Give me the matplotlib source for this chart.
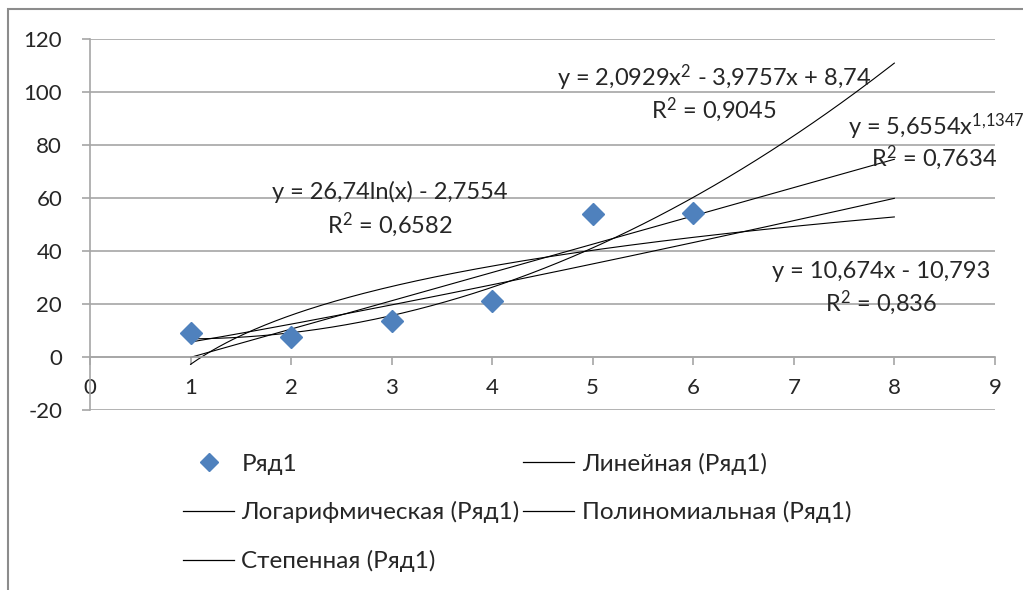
import numpy as np
import matplotlib.pyplot as plt
from matplotlib.lines import Line2D
from matplotlib.patches import Rectangle

plt.rcParams['font.family'] = ['Lato', 'DejaVu Sans']
plt.rcParams['mathtext.fontset'] = 'custom'
plt.rcParams['mathtext.rm'] = 'Lato'
plt.rcParams['mathtext.it'] = 'Lato'
plt.rcParams['axes.unicode_minus'] = False

# data
x_vals = [1, 2, 3, 4, 5, 6]
y_vals = [9.1, 7.5, 13.6, 21.2, 53.8, 54.5]

# trendline coefficients as printed on the chart
lin_coef = [10.674, -10.793]
log_coef = [26.74, -2.7554]
poly_coef = [2.0929, -3.9757, 8.74]
pow_coef = [5.6554, 1.1347]
trend_x = [1, 8]

yticks = [-20, 0, 20, 40, 60, 80, 100, 120]
xticks = [0, 1, 2, 3, 4, 5, 6, 7, 8, 9]

grid_c = '#a6a6a6'
txt_c = '#262626'

fig = plt.figure(figsize=(10.23, 5.90), dpi=100)
ax = fig.add_axes([0.088, 0.305, 0.8845, 0.629])

xx = np.linspace(trend_x[0], trend_x[1], 200)
ax.plot(xx, lin_coef[0] * xx + lin_coef[1], color='black', lw=0.8)
ax.plot(xx, log_coef[0] * np.log(xx) + log_coef[1], color='black', lw=0.8)
ax.plot(xx, np.polyval(poly_coef, xx), color='black', lw=0.8)
ax.plot(xx, pow_coef[0] * xx ** pow_coef[1], color='black', lw=0.8)
ax.plot(x_vals, y_vals, linestyle='none', marker='D', markersize=11,
        color='#4f81bd', markeredgecolor='#4f81bd', zorder=3)

ax.set_xlim(0, 9)
ax.set_ylim(-20, 120)
ax.set_yticks(yticks)
ax.set_xticks(xticks)
ax.yaxis.grid(True, color=grid_c, lw=1.2)
ax.set_axisbelow(True)
for s in ['top', 'right']:
    ax.spines[s].set_visible(False)
ax.spines['left'].set_color(grid_c)
ax.spines['left'].set_linewidth(1.2)
ax.spines['bottom'].set_position(('data', 0))
ax.spines['bottom'].set_color(grid_c)
ax.spines['bottom'].set_linewidth(1.2)
ax.tick_params(axis='y', direction='out', length=6, width=1.2, color=grid_c,
               labelsize=16, labelcolor=txt_c, pad=14)
ax.tick_params(axis='x', direction='out', length=6, width=1.2, color=grid_c,
               labelsize=16, labelcolor=txt_c, pad=9)

fs = 17
ax.text(6.21, 105.3, r'y = 2,0929x$^{2}$ - 3,9757x + 8,74', ha='center', va='center', fontsize=fs, color=txt_c)
ax.text(6.2, 93.2, r'R$^{2}$ = 0,9045', ha='center', va='center', fontsize=fs, color=txt_c)
ax.text(7.54, 86.7, r'y = 5,6554x$^{1{,}1347}$', ha='left', va='center', fontsize=fs, color=txt_c)
ax.text(8.40, 75.4, r'R$^{2}$ = 0,7634', ha='center', va='center', fontsize=fs, color=txt_c)
ax.text(2.98, 62.1, 'y = 26,74ln(x) - 2,7554', ha='center', va='center', fontsize=fs, color=txt_c)
ax.text(2.98, 50.0, r'R$^{2}$ = 0,6582', ha='center', va='center', fontsize=fs, color=txt_c)
ax.text(7.87, 32.2, 'y = 10,674x - 10,793', ha='center', va='center', fontsize=fs, color=txt_c)
ax.text(7.87, 20.5, r'R$^{2}$ = 0,836', ha='center', va='center', fontsize=fs, color=txt_c)

handles = [
    Line2D([], [], linestyle='none', marker='D', markersize=9, color='#4f81bd'),
    Line2D([], [], color='black', lw=0.9),
    Line2D([], [], color='black', lw=0.9),
    Line2D([], [], color='black', lw=0.9),
    Line2D([], [], color='black', lw=0.9),
]
labels = ['Ряд1', 'Логарифмическая (Ряд1)', 'Степенная (Ряд1)',
          'Линейная (Ряд1)', 'Полиномиальная (Ряд1)']
fig.legend(handles, labels, loc='upper left', bbox_to_anchor=(0.179, 0.233),
           ncol=2, frameon=False, fontsize=17.5, handlelength=2.1, handletextpad=0.3,
           columnspacing=0.15, labelspacing=1.1, labelcolor=txt_c,
           borderpad=0, borderaxespad=0)

fig.patches.append(Rectangle((8 / 1023, -0.1), 1.2, 1 - 9 / 590 + 0.1, transform=fig.transFigure,
                             fill=False, edgecolor='#8c8c8c', lw=1.5))

fig.savefig('out.png', dpi=100)
